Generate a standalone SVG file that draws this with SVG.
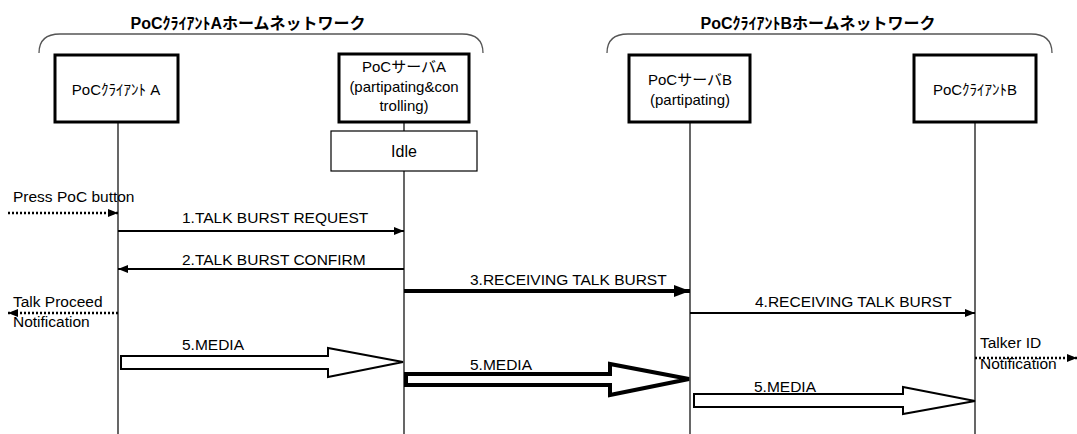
<svg xmlns="http://www.w3.org/2000/svg" width="1077" height="434" viewBox="0 0 1077 434">
  <style>
    text { font-family: "Liberation Sans", "Noto Sans CJK JP", sans-serif; fill: #000; }
    .title { font-size: 16px; font-weight: bold; text-anchor: middle; }
    .box { fill: #fff; stroke: #000; stroke-width: 3; }
    .state { fill: #fff; stroke: #000; stroke-width: 1.2; }
    .node-label { font-size: 15px; text-anchor: middle; }
    .msg { font-size: 15.5px; }
    .brace { fill: none; stroke: #555; stroke-width: 1.3; }
    .life { stroke: #000; stroke-width: 1.2; }
    .arrow { stroke: #000; stroke-width: 2; fill: none; }
    .dotted { stroke: #000; stroke-width: 2.5; stroke-dasharray: 2 2; fill: none; }
    .block { fill: #fff; stroke: #000; stroke-width: 2; stroke-linejoin: miter; }
  </style>
  <defs>
    <marker id="head" markerWidth="10" markerHeight="8" refX="10" refY="4" orient="auto" markerUnits="userSpaceOnUse">
      <path d="M0,0 L10,4 L0,8 Z" fill="#000"/>
    </marker>
    <marker id="head-big" markerWidth="16" markerHeight="12" refX="16" refY="6" orient="auto" markerUnits="userSpaceOnUse">
      <path d="M0,0 L16,6 L0,12 Z" fill="#000"/>
    </marker>
  </defs>

  <rect width="1077" height="434" fill="#fff"/>

  <!-- home network groupings -->
  <g id="network-a">
    <path class="brace" d="M39,53 Q39,34 60,34 L462,34 Q483,34 483,53"/>
    <text class="title" x="248" y="29">PoCｸﾗｲｱﾝﾄAホームネットワーク</text>
  </g>
  <g id="network-b">
    <path class="brace" d="M607,53 Q607,34 628,34 L1031,34 Q1052,34 1052,53"/>
    <text class="title" x="818" y="29">PoCｸﾗｲｱﾝﾄBホームネットワーク</text>
  </g>

  <!-- lifelines -->
  <g id="lifelines">
    <line class="life" x1="118" y1="122" x2="118" y2="434"/>
    <line class="life" x1="404" y1="122" x2="404" y2="434"/>
    <line class="life" x1="690" y1="122" x2="690" y2="434"/>
    <line class="life" x1="975" y1="122" x2="975" y2="434"/>
  </g>

  <g id="client-a">
    <rect class="box" x="55" y="55" width="123" height="67"/>
    <text class="node-label" x="116" y="95">PoCｸﾗｲｱﾝﾄ A</text>
  </g>

  <g id="server-a">
    <rect class="box" x="339" y="54" width="130" height="68"/>
    <text class="node-label" x="404" y="72">PoCサーバA</text>
    <text class="node-label" x="404" y="92">(partipating&amp;con</text>
    <text class="node-label" x="404" y="111">trolling)</text>
  </g>

  <g id="state-idle">
    <rect class="state" x="331" y="131" width="146" height="40"/>
    <text class="node-label" x="404" y="157" style="font-size:16px">Idle</text>
  </g>

  <g id="server-b">
    <rect class="box" x="629" y="55" width="121" height="67"/>
    <text class="node-label" x="690" y="85">PoCサーバB</text>
    <text class="node-label" x="690" y="105">(partipating)</text>
  </g>

  <g id="client-b">
    <rect class="box" x="914" y="55" width="122" height="67"/>
    <text class="node-label" x="975" y="95">PoCｸﾗｲｱﾝﾄB</text>
  </g>

  <!-- connectors -->
  <g id="connectors">
    <!-- Press PoC button -->
    <line class="dotted" x1="8" y1="213" x2="118" y2="213" marker-end="url(#head)"/>
    <text class="msg" x="13" y="202">Press PoC button</text>

    <!-- 1 -->
    <line class="arrow" x1="118" y1="231" x2="404" y2="231" marker-end="url(#head)"/>
    <text class="msg" x="182" y="223">1.TALK BURST REQUEST</text>

    <!-- 2 -->
    <line class="arrow" x1="404" y1="269" x2="118" y2="269" marker-end="url(#head)"/>
    <text class="msg" x="182" y="265">2.TALK BURST CONFIRM</text>

    <!-- 3 -->
    <line class="arrow" style="stroke-width:4" x1="404" y1="291" x2="690" y2="291" marker-end="url(#head-big)"/>
    <text class="msg" x="470" y="285">3.RECEIVING TALK BURST</text>

    <!-- 4 -->
    <line class="arrow" x1="690" y1="313" x2="975" y2="313" marker-end="url(#head)"/>
    <text class="msg" x="755" y="307">4.RECEIVING TALK BURST</text>

    <!-- Talk Proceed Notification -->
    <line class="dotted" x1="118" y1="313" x2="8" y2="313" marker-end="url(#head)"/>
    <text class="msg" x="13" y="307">Talk Proceed</text>
    <text class="msg" x="13" y="327">Notification</text>

    <!-- Talker ID Notification -->
    <line class="dotted" x1="975" y1="358" x2="1077" y2="358" marker-end="url(#head)"/>
    <text class="msg" x="980" y="348">Talker ID</text>
    <text class="msg" x="980" y="369">Notification</text>

    <!-- 5 media streams -->
    <polygon class="block" points="121,356 328,356 328,348 403,362 328,377 328,369 121,369"/>
    <text class="msg" x="182" y="350">5.MEDIA</text>

    <polygon class="block" style="stroke-width:4" points="406,374 610,374 610,364 689,379 610,395 610,385 406,385"/>
    <text class="msg" x="470" y="370">5.MEDIA</text>

    <polygon class="block" points="694,394 903,394 903,387 975,401 903,414 903,407 694,407"/>
    <text class="msg" x="754" y="392">5.MEDIA</text>
  </g>
</svg>
